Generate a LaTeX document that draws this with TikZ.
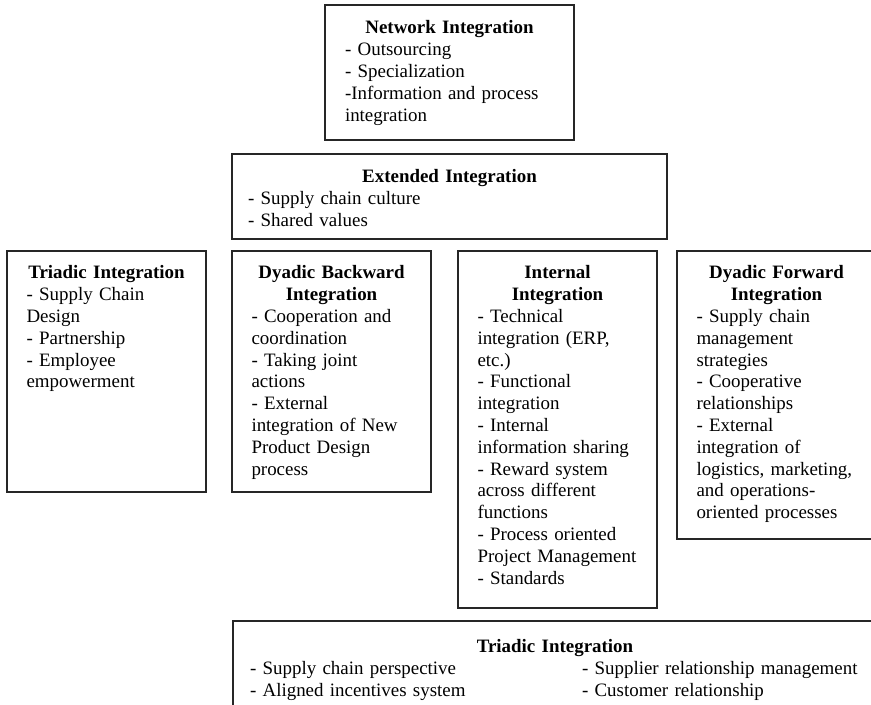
\documentclass[tikz,border=0pt]{standalone}
\usepackage{fontspec}
\setmainfont{Liberation Serif}
\usetikzlibrary{positioning}

\newcommand{\hd}[1]{\makebox[\linewidth]{\bfseries #1}}

\begin{document}
\begin{tikzpicture}[
  x=0.75pt, y=-0.75pt,
  box/.style={draw=black!85, line width=1.1pt, inner sep=0pt, outer sep=0pt, anchor=north west},
  txt/.style={inner sep=0pt, align=left, font=\fontsize{14.2}{16.35}\selectfont},
  col/.style={txt, text width=120pt}
]
\useasboundingbox (0,0) rectangle (871,705);
\fill[white] (0,0) rectangle (871,705);
\clip (0,0) rectangle (871,705);

% Top of the stack.
\node[box, minimum width=186.75pt, minimum height=101.25pt] (net) at (325,5) {};
\node[txt, text width=156.75pt, below=11.6pt of net.north] (netT)
  {\hd{Network Integration}\\- Outsourcing\\- Specialization\\-Information and process\\integration};

\node[box, minimum width=326.25pt, minimum height=63.75pt] (ext) at (232,154) {};
\node[txt, text width=302.25pt, below=11.6pt of ext.north] (extT)
  {\hd{Extended Integration}\\- Supply chain culture\\- Shared values};

% Row of four columns.
\node[box, minimum width=149.25pt, minimum height=180.75pt] (triL) at (7,251) {};
\node[col, below=10.9pt of triL.north] (triLT)
  {\hd{Triadic Integration}\\- Supply Chain\\Design\\- Partnership\\- Employee\\empowerment};

\node[box, minimum width=149.25pt, minimum height=180.75pt] (back) at (232,251) {};
\node[col, below=10.9pt of back.north] (backT)
  {\hd{Dyadic Backward}\\\hd{Integration}\\- Cooperation and\\coordination\\- Taking joint\\actions\\- External\\integration of New\\Product Design\\process};

\node[box, minimum width=149.25pt, minimum height=267.75pt] (intl) at (458,251) {};
\node[col, below=10.9pt of intl.north] (intlT)
  {\hd{Internal}\\\hd{Integration}\\- Technical\\integration (ERP,\\etc.)\\- Functional\\integration\\- Internal\\information sharing\\- Reward system\\across different\\functions\\- Process oriented\\Project Management\\- Standards};

\node[box, minimum width=149.25pt, minimum height=216pt] (fwd) at (677,251) {};
\node[col, below=10.9pt of fwd.north] (fwdT)
  {\hd{Dyadic Forward}\\\hd{Integration}\\- Supply chain\\management\\strategies\\- Cooperative\\relationships\\- External\\integration of\\logistics, marketing,\\and operations-\\oriented processes};

% Bottom box, cut by the page edge.
\node[box, minimum width=483pt, minimum height=90pt] (triB) at (233,621) {};
\node[txt, text width=457.5pt, below=13.9pt of triB.north] (triBT)
  {\hd{Triadic Integration}\\
   \makebox[249pt][l]{- Supply chain perspective}- Supplier relationship management\\
   \makebox[249pt][l]{- Aligned incentives system}- Customer relationship};

\end{tikzpicture}
\end{document}
